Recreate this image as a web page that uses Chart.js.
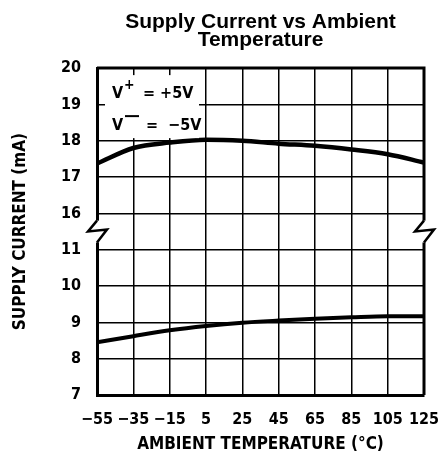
<!DOCTYPE html>
<html>
<head>
<meta charset="utf-8">
<script src="https://cdn.jsdelivr.net/npm/chart.js@4"></script>
<style>
  html, body { margin: 0; padding: 0; background: #fff; }
  #wrap { width: 438px; height: 465px; }
</style>
</head>
<body>
<div id="wrap"><canvas id="chart" width="438" height="465"></canvas></div>
<script>
// temperatures (°C)
const temps = [-55, -35, -15, 5, 25, 45, 65, 85, 105, 125];
// supply current (mA), upper curve and lower curve
const upperCurrent = [17.37, 17.8, 17.95, 18.03, 18.0, 17.92, 17.86, 17.76, 17.63, 17.4];
const lowerCurrent = [8.45, 8.62, 8.78, 8.9, 8.99, 9.05, 9.1, 9.14, 9.17, 9.17];
// y ticks shown (broken axis: 7..11 then 16..20)
const lowTicks = [7, 8, 9, 10, 11];
const highTicks = [16, 17, 18, 19, 20];

// axis break: values >= 16 are shifted down by 4 so 16 sits just above 11
const SHIFT = 4;
const toAxis = v => (v >= 13 ? v - SHIFT : v);
const fromAxis = a => (a > 11 ? a + SHIFT : a);

const narrow = "'Liberation Sans Narrow', 'DejaVu Sans Condensed', sans-serif";
const minus = s => String(s).replace("-", "\u2212");

// top/right frame, break zigzags, V+/V- note
const extras = {
    id: "extras",
    afterDraw(chart) {
        const { ctx, chartArea: a, scales } = chart;
        const y = scales.y;
        ctx.save();
        ctx.strokeStyle = "#000";
        ctx.lineWidth = 3;
        ctx.beginPath();
        ctx.moveTo(a.left, a.top);
        ctx.lineTo(a.right, a.top);
        ctx.lineTo(a.right, a.bottom);
        ctx.stroke();

        // break marks between 16 and 11
        const y16 = y.getPixelForValue(toAxis(16));
        const y11 = y.getPixelForValue(11);
        const t = y16 + (y11 - y16) * 0.2;
        const b = y16 + (y11 - y16) * 0.8;
        const m = (t + b) / 2;
        [a.left, a.right].forEach(x => {
            ctx.fillStyle = "#fff";
            ctx.fillRect(x - 3, t, 6, b - t);
            ctx.lineWidth = 2.5;
            ctx.beginPath();
            ctx.moveTo(x, t);
            ctx.lineTo(x - 9, m);
            ctx.lineTo(x + 10, m - 2);
            ctx.lineTo(x, b);
            ctx.stroke();
        });

        // supply note
        ctx.fillStyle = "#fff";
        ctx.fillRect(a.left + 8, a.top + 7, 94, 63);
        ctx.fillStyle = "#000";
        ctx.textBaseline = "alphabetic";
        ctx.font = "bold 16px " + narrow;
        const x0 = a.left + 15;
        ctx.fillText("V", x0, a.top + 30);
        ctx.fillText("= +5V", x0 + 31, a.top + 30);
        ctx.fillText("V", x0, a.top + 62);
        ctx.fillText("=  \u22125V", x0 + 34, a.top + 62);
        ctx.font = "bold 14px " + narrow;
        ctx.fillText("+", x0 + 12, a.top + 21);
        ctx.fillRect(x0 + 13, a.top + 47, 14, 2);
        ctx.restore();
    }
};

new Chart(document.getElementById("chart"), {
    type: "line",
    data: {
        datasets: [
            {
                data: temps.map((t, i) => ({ x: t, y: toAxis(upperCurrent[i]) })),
                borderColor: "#000",
                borderWidth: 4.5,
                pointRadius: 0,
                tension: 0.4,
                cubicInterpolationMode: "monotone",
            },
            {
                data: temps.map((t, i) => ({ x: t, y: lowerCurrent[i] })),
                borderColor: "#000",
                borderWidth: 4,
                pointRadius: 0,
                tension: 0.4,
                cubicInterpolationMode: "monotone",
            },
        ],
    },
    options: {
        responsive: false,
        animation: false,
        layout: { padding: { right: 14 } },
        plugins: {
            legend: { display: false },
            tooltip: { enabled: false },
            title: {
                display: true,
                fullSize: false,
                text: ["Supply Current vs Ambient", "Temperature"],
                color: "#000",
                font: { family: "'Liberation Sans', Arial, sans-serif", size: 21, weight: "bold", lineHeight: 0.86 },
                padding: { top: 13, bottom: 19 },
            },
        },
        scales: {
            x: {
                type: "linear",
                min: temps[0],
                max: temps[temps.length - 1],
                afterBuildTicks: s => { s.ticks = temps.map(v => ({ value: v })); },
                afterFit: s => {
                    s.height = 70;
                    s.paddingLeft = 0;
                    s.paddingRight = 0;
                },
                ticks: {
                    color: "#000",
                    padding: 15,
                    maxRotation: 0,
                    autoSkip: false,
                    font: { family: narrow, size: 16, weight: "bold" },
                    callback: v => minus(v),
                },
                grid: { color: "#000", lineWidth: 1.5, drawTicks: false },
                border: { color: "#000", width: 3 },
                title: {
                    display: true,
                    text: "AMBIENT TEMPERATURE (°C)",
                    color: "#000",
                    font: { family: narrow, size: 17, weight: "bold" },
                    padding: { top: 4, bottom: 10 },
                },
            },
            y: {
                type: "linear",
                min: toAxis(lowTicks[0]),
                max: toAxis(highTicks[highTicks.length - 1]),
                afterBuildTicks: s => {
                    s.ticks = lowTicks.concat(highTicks).map(v => ({ value: toAxis(v) }));
                },
                afterFit: s => { s.width = 97; },
                ticks: {
                    color: "#000",
                    padding: 16,
                    autoSkip: false,
                    font: { family: narrow, size: 16, weight: "bold" },
                    callback: v => String(fromAxis(v)),
                },
                grid: { color: "#000", lineWidth: 1.5, drawTicks: false },
                border: { color: "#000", width: 3 },
                title: {
                    display: true,
                    text: "SUPPLY CURRENT (mA)",
                    color: "#000",
                    font: { family: narrow, size: 17, weight: "bold" },
                    padding: { top: 10, bottom: 0 },
                },
            },
        },
    },
    plugins: [extras],
});
</script>
</body>
</html>
